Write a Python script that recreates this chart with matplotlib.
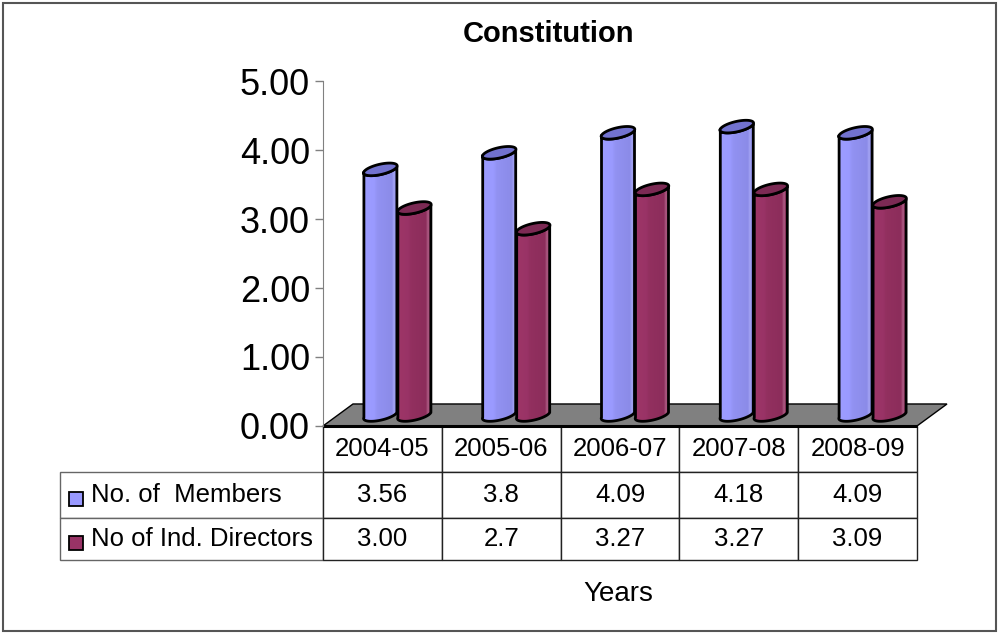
import numpy as np
import matplotlib
matplotlib.use('Agg')
import matplotlib.pyplot as plt
from matplotlib.patches import Polygon, Rectangle
from matplotlib.colors import LinearSegmentedColormap
from matplotlib.table import Table

plt.rcParams['font.family'] = ['Liberation Sans', 'DejaVu Sans']

years = ['2004-05', '2005-06', '2006-07', '2007-08', '2008-09']
series = ['No. of  Members', 'No of Ind. Directors']
members_txt = ['3.56', '3.8', '4.09', '4.18', '4.09']
directors_txt = ['3.00', '2.7', '3.27', '3.27', '3.09']
members = [float(s) for s in members_txt]
directors = [float(s) for s in directors_txt]
yticks = [0, 1, 2, 3, 4, 5]

fig = plt.figure(figsize=(10, 6.34), dpi=100)
ax = fig.add_axes([0.323, 0.3281, 0.594, 0.5441])
ax.set_xlim(-0.5, len(years) - 0.5)
ax.set_ylim(0, 5)

# pixels per data unit, used to size the 3d pieces in screen terms
sx = 1000 * 0.594 / len(years)
sy = 634 * 0.5441 / 5
ax_w, ax_h = 1000 * 0.594, 634 * 0.5441

# floor depth (px) and cylinder shape (px)
dep_x, dep_y = 30, 22
r, e, a, b = 16.5, 2.5, 3.0, 5.8

floor = Polygon([(-0.5, 0), (len(years) - 0.5, 0),
                 (len(years) - 0.5 + dep_x / sx, dep_y / sy),
                 (-0.5 + dep_x / sx, dep_y / sy)],
                closed=True, facecolor='#808080', edgecolor='black',
                lw=1, clip_on=False, zorder=1)
ax.add_patch(floor)
ax.plot([-0.5, len(years) - 0.5], [0, 0], color='black', lw=2.2,
        clip_on=False, zorder=2, solid_capstyle='butt')


def ring(xc, yc, t):
    x = xc + (r * np.cos(t) + a * np.sin(t)) / sx
    y = yc + (e * np.cos(t) + b * np.sin(t)) / sy
    return np.column_stack([x, y])


def cylinder(xc, val, cmap, cap_col, z):
    y0 = (dep_y / 2) / sy
    y1 = y0 + val
    tf = np.linspace(np.pi, 2 * np.pi, 60)
    body = np.vstack([ring(xc, y0, tf), ring(xc, y1, tf[::-1])])
    bp = Polygon(body, closed=True, facecolor='none', edgecolor='black',
                 lw=2, zorder=z + 0.2, joinstyle='round')
    ax.add_patch(bp)
    grad = np.linspace(0, 1, 200).reshape(1, -1)
    im = ax.imshow(grad, cmap=cmap, aspect='auto', interpolation='bilinear',
                   extent=[xc - (r + 4) / sx, xc + (r + 4) / sx,
                           y0 - 10 / sy, y1 + 10 / sy], zorder=z)
    im.set_clip_path(bp)
    cap = Polygon(ring(xc, y1, np.linspace(0, 2 * np.pi, 80)), closed=True,
                  facecolor=cap_col, edgecolor='black', lw=2, zorder=z + 0.3,
                  joinstyle='round')
    ax.add_patch(cap)


blue_cm = LinearSegmentedColormap.from_list('blue', [
    (0, '#9e9eff'), (0.35, '#9a9aff'), (0.42, '#9292f2'), (0.78, '#8b8be8'),
    (0.84, '#a6a6f4'), (0.88, '#8585de'), (1, '#7d7dd6')])
red_cm = LinearSegmentedColormap.from_list('red', [
    (0, '#a03768'), (0.35, '#993366'), (0.42, '#92305f'), (0.78, '#8c2d5b'),
    (0.84, '#b06088'), (0.88, '#872b56'), (1, '#7f2851')])

for i in range(len(years)):
    cylinder(i + (dep_x / 2 - 17) / sx, members[i], blue_cm, '#7272cf', 3 + i)
    cylinder(i + (dep_x / 2 + 17) / sx, directors[i], red_cm, '#7c2a54', 3.5 + i)

ax.set_xlim(-0.5, len(years) - 0.5)
ax.set_ylim(0, 5)

for s in ['top', 'right', 'bottom']:
    ax.spines[s].set_visible(False)
ax.spines['left'].set_color('#808080')
ax.spines['left'].set_zorder(2.5)
ax.set_xticks([])
ax.set_yticks(yticks)
ax.set_yticklabels([f'{v:.2f}' for v in yticks])
ax.tick_params(axis='y', direction='out', length=5.8, width=1, color='#808080',
               labelsize=26, pad=3.5)
ax.patch.set_visible(False)

# data table under the floor (sizes in axes fractions)
cw = 1.0 / len(years)
lab_w = 263 / ax_w
rh = [46 / ax_h, 46 / ax_h, 42 / ax_h]
tbl = Table(ax, bbox=[0, -sum(rh), 1, sum(rh)])
for c, yr in enumerate(years):
    tbl.add_cell(0, c, width=cw, height=rh[0], text=yr, loc='center',
                 edgecolor='#222222')
for rr, vals in enumerate([members_txt, directors_txt], start=1):
    cell = tbl.add_cell(rr, -1, width=lab_w, height=rh[rr], text=series[rr - 1],
                        loc='left', edgecolor='#666666')
    cell.PAD = 31 / 263
    for c, v in enumerate(vals):
        tbl.add_cell(rr, c, width=cw, height=rh[rr], text=v, loc='center',
                     edgecolor='#222222')
tbl.auto_set_font_size(False)
tbl.set_fontsize(18.5)
ax.add_table(tbl)

# legend keys inside the row labels
for k, col in enumerate(['#9999ff', '#993366']):
    ax.add_patch(Rectangle((-254 / ax_w, (-80 - 44 * k) / ax_h),
                           14 / ax_w, 14 / ax_h, transform=ax.transAxes,
                           facecolor=col, edgecolor='black', lw=1.3,
                           clip_on=False, zorder=6))

fig.text(0.548, 1 - 42 / 634, 'Constitution', ha='center', va='baseline',
         fontsize=21, fontweight='bold')
fig.text(0.618, 1 - 601 / 634, 'Years', ha='center', va='baseline',
         fontsize=20)

fig.add_artist(Rectangle((0.003, 0.004), 0.993, 0.991,
                         transform=fig.transFigure, facecolor='none',
                         edgecolor='#555555', lw=1.5))

fig.savefig('out.png', dpi=100)
